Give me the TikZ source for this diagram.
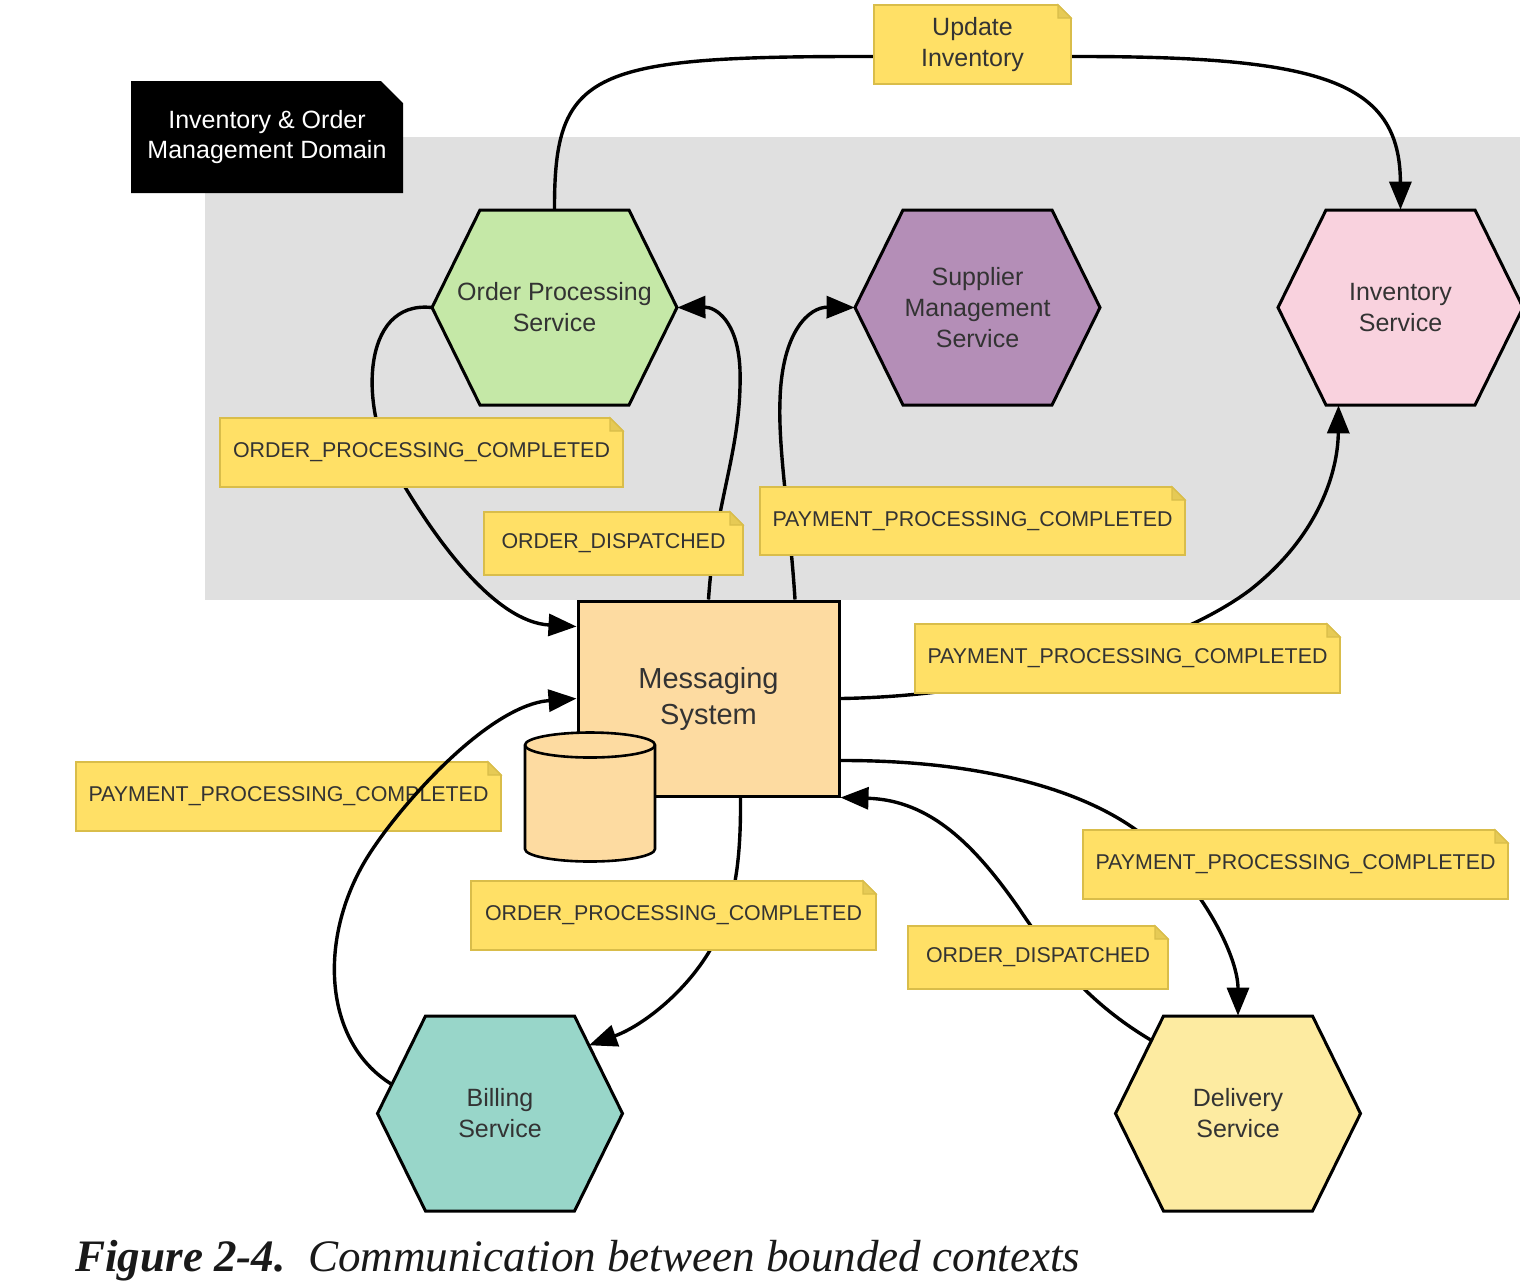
\documentclass[tikz,border=0pt]{standalone}
\usepackage{fontspec}
\usepackage{graphicx}
\setmainfont{Liberation Sans}
\newfontfamily\captionserif{Liberation Serif}
\usetikzlibrary{arrows.meta,calc}

\pgfdeclarelayer{back}
\pgfdeclarelayer{links}
\pgfsetlayers{back,links,main}

\definecolor{domaingray}{HTML}{E0E0E0}
\definecolor{memofill}{HTML}{FFE066}
\definecolor{memoedge}{HTML}{D9BD4A}
\definecolor{memofoldc}{HTML}{E6CA55}
\definecolor{ink}{HTML}{333333}
\definecolor{opsgreen}{HTML}{C5E8A7}
\definecolor{suppurple}{HTML}{B48EB7}
\definecolor{invpink}{HTML}{F9D2DE}
\definecolor{billteal}{HTML}{98D6C9}
\definecolor{delyellow}{HTML}{FDEBA1}
\definecolor{msgorange}{HTML}{FDDBA1}

\tikzset{
  link/.style={line width=1.7pt, -{Triangle[length=14pt,width=11pt]}},
  hexborder/.style={draw=black, line width=1.5pt, line join=miter},
  hexlabel/.style={inner sep=0pt, minimum width=122.5pt, minimum height=97.5pt,
    align=center, text=ink, font=\fontsize{12.5}{15.5}\selectfont},
  memoshape/.style={fill=memofill, draw=memoedge, line width=0.8pt},
  memofold/.style={fill=memofoldc, draw=memoedge, line width=0.6pt},
  memolabel/.style={inner sep=0pt, align=center, text=ink, font=\fontsize{10.7}{13}\selectfont},
  bigmemo/.style={font=\fontsize{12.5}{15.5}\selectfont},
  domainlabel/.style={inner sep=0pt, align=center, text=white, font=\fontsize{12.5}{15}\selectfont},
  msgbox/.style={draw=black, line width=1.5pt, fill=msgorange, inner sep=0pt,
    minimum width=130.5pt, minimum height=97.5pt, align=center, text=ink,
    font=\fontsize{14.5}{18}\selectfont},
  dbstyle/.style={draw=black, line width=1.3pt, fill=msgorange},
}

% flat-topped hexagon with a named label node of the same extent
\newcommand{\hexagonnode}[4]{%
  \begin{scope}[shift={#2}]
    \filldraw[hexborder, fill=#3] (-122.5,0) -- (-74.5,-97.5) -- (74.5,-97.5) -- (122.5,0)
      -- (74.5,97.5) -- (-74.5,97.5) -- cycle;
    \coordinate (#1-nw) at (-74.5,-97.5);
    \coordinate (#1-ne) at (74.5,-97.5);
    \coordinate (#1-sw) at (-74.5,97.5);
    \coordinate (#1-se) at (74.5,97.5);
  \end{scope}
  \node[hexlabel] (#1) at #2 {#4};
}

% sticky note with a folded top-right corner
\newcommand{\memo}[7][]{%
  \filldraw[memoshape] (#3,#4) -- ({#5-13},#4) -- (#5,{#4+13}) -- (#5,#6) -- (#3,#6) -- cycle;
  \filldraw[memofold] ({#5-13},#4) -- ({#5-13},{#4+13}) -- (#5,{#4+13}) -- cycle;
  \node[memolabel, #1, minimum width={(#5-#3)*0.5pt}, minimum height={(#6-#4)*0.5pt}]
    (#2) at ({(#3+#5)/2},{(#4+#6)/2}) {#7};
}

\begin{document}
\begin{tikzpicture}[x=0.5pt,y=-0.5pt]
\useasboundingbox (0,0) rectangle (1520,1282);

% domain background and its title card
\begin{pgfonlayer}{back}
  \fill[domaingray] (205,137) rectangle (1520,600);
  \fill[black] (131,81) -- (381,81) -- (403,103) -- (403,193) -- (131,193) -- cycle;
  \node[domainlabel] (domain) at (267,137) {Inventory \& Order\\Management Domain};
\end{pgfonlayer}

% services
\hexagonnode{ops}{(554.5,307.5)}{opsgreen}{Order Processing\\Service}
\hexagonnode{sup}{(977.5,307.5)}{suppurple}{Supplier\\Management\\Service}
\hexagonnode{inv}{(1400.5,307.5)}{invpink}{Inventory\\Service}
\hexagonnode{bil}{(500,1113.5)}{billteal}{Billing\\Service}
\hexagonnode{dlv}{(1238,1113.5)}{delyellow}{Delivery\\Service}

% message bus with its store
\node[msgbox] (msg) at (708.5,698.5) {Messaging\\System};
\filldraw[dbstyle] (525,745) -- (525,849)
  arc[start angle=180, end angle=360, x radius=32.5pt, y radius=6.25pt] -- (655,745)
  arc[start angle=0, end angle=180, x radius=32.5pt, y radius=6.25pt] -- cycle;
\draw[dbstyle, fill=none] (525,745)
  arc[start angle=180, end angle=360, x radius=32.5pt, y radius=6.25pt];

% event notes
\memo[bigmemo]{upd}{874}{5}{1071}{84}{Update\\Inventory}
\memo{evopc}{220}{418}{623}{487}{ORDER\_PROCESSING\_COMPLETED}
\memo{evod}{484}{512}{743}{575}{ORDER\_DISPATCHED}
\memo{evppc}{760}{487}{1185}{555}{PAYMENT\_PROCESSING\_COMPLETED}
\memo{evppcinv}{915}{624}{1340}{693}{PAYMENT\_PROCESSING\_COMPLETED}
\memo{evppcbil}{76}{762}{501}{831}{PAYMENT\_PROCESSING\_COMPLETED}
\memo{evopcbil}{471}{881}{876}{950}{ORDER\_PROCESSING\_COMPLETED}
\memo{evppcdlv}{1083}{830}{1508}{899}{PAYMENT\_PROCESSING\_COMPLETED}
\memo{evoddlv}{908}{926}{1168}{989}{ORDER\_DISPATCHED}

% event flows passing beneath the notes
\begin{pgfonlayer}{links}
  \draw[link] (ops.north) .. controls (554,70) and (590,56) .. ([yshift=-6pt]upd.west)
    -- ([yshift=-6pt]upd.east) .. controls (1320,56) and (1400,80) .. (inv.north);
  \draw[link] (ops.west) .. controls (360,300) and (360,410) .. (395,470)
    .. controls (435,540) and (495,622) .. ([yshift=-13.5pt]msg.north west);
  \draw[link] (msg.north) .. controls (715,500) and (742,450) .. (740,370)
    .. controls (738,320) and (715,307) .. (ops.east);
  \draw[link] ([xshift=43.25pt]msg.north) .. controls (790,520) and (778,450) .. (780,400)
    .. controls (782,330) and (810,307) .. (sup.west);
  \draw[link] (msg.east) .. controls (1000,696) and (1170,650) .. (1250,590)
    .. controls (1320,535) and (1338,470) .. ([xshift=-31pt]inv.south);
  \draw[link] ([yshift=-31pt]msg.east) .. controls (980,760) and (1100,790) .. (1160,850)
    .. controls (1210,900) and (1238,960) .. (dlv.north);
  \draw[link] ($(dlv.west)!0.75!(dlv-nw)$) .. controls (1100,1010) and (1060,970) .. (1020,910)
    .. controls (975,845) and (930,800) .. (msg.south east);
  \draw[link] ([xshift=16pt]msg.south) .. controls (741,860) and (735,900) .. (718,935)
    .. controls (695,985) and (645,1025) .. ($(bil-ne)!0.3!(bil.east)$);
\end{pgfonlayer}

% billing reply drawn over its note
\draw[link] ($(bil.west)!0.3!(bil-nw)$) .. controls (320,1040) and (318,930) .. (372,850)
  .. controls (405,800) and (490,705) .. (msg.west);

% caption
\node[anchor=base west, inner sep=0pt, text=black!90] (caption) at (75,1271)
  {\resizebox{502.5pt}{\height}{\captionserif\fontsize{22.5}{22.5}\selectfont
   \bfseries\itshape Figure 2-4.\ \ \mdseries Communication between bounded contexts}};
\end{tikzpicture}
\end{document}
